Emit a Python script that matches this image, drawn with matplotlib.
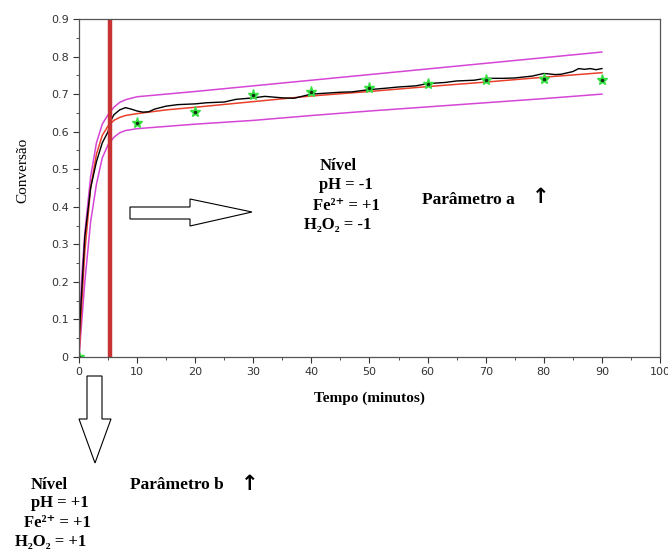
import matplotlib
matplotlib.use("Agg")
import matplotlib.pyplot as plt
from matplotlib.patches import Polygon
from matplotlib.ticker import MultipleLocator

# experimental conversion (noisy black trace)
t_exp = [0, 0.3, 1, 2, 3, 4, 5, 5.5, 6, 7, 8, 9, 10, 11, 12, 13, 15, 17, 20, 22, 25, 27,
         30, 32, 35, 37, 40, 42, 45, 47, 50, 53, 55, 58, 60, 63, 65, 68, 70, 73, 75,
         78, 80, 82, 83, 85, 86, 87, 88, 89, 90]
x_exp = [0.04, 0.13, 0.32, 0.45, 0.52, 0.57, 0.60, 0.63, 0.645, 0.658, 0.664, 0.66, 0.655,
         0.652, 0.653, 0.66, 0.668, 0.672, 0.674, 0.677, 0.679, 0.686, 0.69, 0.694, 0.69,
         0.689, 0.70, 0.702, 0.705, 0.706, 0.712, 0.716, 0.719, 0.722, 0.728, 0.731, 0.735,
         0.737, 0.742, 0.742, 0.743, 0.748, 0.755, 0.752, 0.753, 0.76, 0.768, 0.766, 0.768,
         0.765, 0.768]

# sampled points
t_pts = [0, 10, 20, 30, 40, 50, 60, 70, 80, 90]
x_pts = [0.0, 0.622, 0.653, 0.698, 0.706, 0.717, 0.728, 0.738, 0.739, 0.738]

# model and confidence band
t_mod = [0, 0.5, 1, 2, 3, 4, 5, 6, 7, 8, 10, 15, 20, 30, 40, 50, 60, 70, 80, 90]
x_mod = [0.0, 0.15, 0.28, 0.45, 0.54, 0.59, 0.615, 0.63, 0.638, 0.643, 0.648, 0.658,
         0.665, 0.68, 0.695, 0.707, 0.72, 0.732, 0.745, 0.757]
x_up = [0.05, 0.22, 0.33, 0.48, 0.57, 0.62, 0.645, 0.665, 0.678, 0.685, 0.693, 0.70,
        0.707, 0.722, 0.737, 0.752, 0.767, 0.782, 0.797, 0.812]
x_lo = [0.0, 0.1, 0.2, 0.36, 0.46, 0.53, 0.565, 0.585, 0.597, 0.603, 0.608, 0.614,
        0.62, 0.63, 0.643, 0.655, 0.666, 0.677, 0.688, 0.70]

t_cut = 5.3
y_ticks = [0, 0.1, 0.2, 0.3, 0.4, 0.5, 0.6, 0.7, 0.8, 0.9]
y_labels = ["0", "0.1", "0.2", "0.3", "0.4", "0.5", "0.6", "0.7", "0.8", "0.9"]

fig = plt.figure(figsize=(6.68, 5.51), dpi=100)
ax = fig.add_axes([79/668, 1-357/551, 581/668, 338/551])

ax.plot(t_mod, x_up, color="#d646d6", lw=1.1)
ax.plot(t_mod, x_lo, color="#d646d6", lw=1.1)
ax.plot(t_mod, x_mod, color="#e8402a", lw=1.1)
ax.plot(t_exp, x_exp, color="black", lw=1.0)
ax.plot(t_pts, x_pts, ls="none", marker="*", ms=8, color="#33e040")
ax.plot(t_pts, x_pts, ls="none", marker=".", ms=3, color="#103010")
ax.axvline(t_cut, color="#c83232", lw=3.2)

ax.set_xlim(0, 100)
ax.set_ylim(0, 0.9)
ax.xaxis.set_major_locator(MultipleLocator(10))
ax.xaxis.set_minor_locator(MultipleLocator(5))
ax.set_yticks(y_ticks)
ax.set_yticklabels(y_labels)
ax.yaxis.set_minor_locator(MultipleLocator(0.05))
ax.tick_params(which="both", direction="out", top=False, right=False,
               labelsize=8, colors="#333333", labelcolor="#333333")
ax.tick_params(which="major", length=4)
ax.tick_params(which="minor", length=2)
for lab in ax.get_xticklabels() + ax.get_yticklabels():
    lab.set_family("DejaVu Sans")
for s in ax.spines.values():
    s.set_color("#555555")
    s.set_linewidth(0.9)

serif = ["Liberation Serif", "DejaVu Serif"]
ax.set_ylabel("Conversão", family=serif, fontsize=11)
ax.set_xlabel("Tempo (minutos)", family=serif, fontsize=11, fontweight="bold", labelpad=10)
ax.yaxis.set_label_coords(-0.086, 0.553)

def ftxt(x, y, s, size=12, fam=serif):
    fig.text(x/668, 1-y/551, s, family=fam, fontweight="bold", fontsize=size,
             ha="center", va="center")

ftxt(338, 166, "Nível")
ftxt(346, 185, "pH = -1")
ftxt(346, 206, "Fe²⁺ = +1")
ftxt(338, 225, "H₂O₂ = -1")
ftxt(468, 200, "Parâmetro a", 12.5)
ftxt(541, 197, "↑", 15, ["DejaVu Sans"])

ftxt(49, 485, "Nível")
ftxt(60, 503, "pH = +1")
ftxt(57, 523, "Fe²⁺ = +1")
ftxt(51, 542, "H₂O₂ = +1")
ftxt(177, 485, "Parâmetro b", 12.5)
ftxt(250, 484, "↑", 15, ["DejaVu Sans"])

def block(pts):
    poly = Polygon([(x/668, 1-y/551) for x, y in pts], closed=True, transform=fig.transFigure,
                   facecolor="white", edgecolor="black", lw=0.8)
    fig.add_artist(poly)

block([(130, 207), (190, 207), (190, 199), (252, 212), (190, 226), (190, 219), (130, 219)])
block([(87, 376), (102, 376), (102, 419), (111, 419), (95, 463), (79, 419), (87, 419)])

fig.savefig("out.png", dpi=100, facecolor="white")
